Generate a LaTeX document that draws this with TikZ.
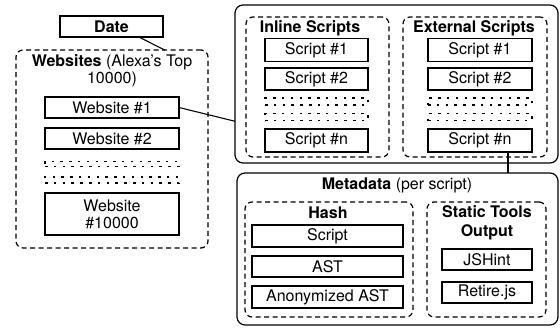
\documentclass[tikz,border=0pt]{standalone}
\usepackage{fontspec}
\setmainfont{TeX Gyre Heros}
\usetikzlibrary{calc}
\tikzset{
  every node/.style={font=\fontsize{16}{17}\selectfont, inner sep=0pt, outer sep=0pt},
  box/.style={draw, line width=1.1pt, rectangle, align=center},
  dotbox/.style={draw, line width=1.3pt, dash pattern=on 2.5pt off 6.3pt, rectangle},
  group/.style={draw, line width=1.2pt, dash pattern=on 5pt off 3.5pt, rounded corners=7pt},
  panel/.style={draw, line width=1.2pt, rounded corners=8pt},
  title/.style={align=center},
  link/.style={line width=1.1pt}
}
\begin{document}
\begin{tikzpicture}[x=1pt,y=-1pt]
\useasboundingbox (0,0) rectangle (560,327);
% Left side
\node[box, minimum width=103pt, minimum height=21pt] (date) at (111.5,26.5) {\textbf{Date}};
\node[group, minimum width=192pt, minimum height=198pt] (websites) at (112,149) {};
\node[title] (wtitle) at (112,71) {\textbf{Websites} (Alexa's Top\\10000)};
\node[box, minimum width=134pt, minimum height=21pt] (web1) at (112,107.5) {Website \#1};
\node[box, minimum width=134pt, minimum height=21pt] (web2) at (112,138.5) {Website \#2};
\node[dotbox, minimum width=134pt, minimum height=5pt] (wdots1) at (112,164) {};
\node[dotbox, minimum width=134pt, minimum height=6pt] (wdots2) at (112,180) {};
\node[box, minimum width=134pt, minimum height=42pt] (webn) at (112,214) {Website\\\#10000};
% Scripts panel
\node[panel, minimum width=323pt, minimum height=158pt] (scripts) at (396.5,84) {};
\node[group, minimum width=143pt, minimum height=140pt] (inline) at (317.5,87) {};
\node[group, minimum width=144pt, minimum height=140pt] (external) at (475,87) {};
\node[title] (ititle) at (310,28) {\textbf{Inline Scripts}};
\node[title] (etitle) at (474,28) {\textbf{External Scripts}};
\node[box, minimum width=103pt, minimum height=23pt] (is1) at (316.5,50) {Script \#1};
\node[box, minimum width=103pt, minimum height=22pt] (is2) at (316.5,79) {Script \#2};
\node[dotbox, minimum width=103pt, minimum height=7pt] (idots1) at (316.5,101.5) {};
\node[dotbox, minimum width=103pt, minimum height=7pt] (idots2) at (316.5,117) {};
\node[box, minimum width=103pt, minimum height=23pt] (isn) at (316.5,140.5) {Script \#n};
\node[box, minimum width=104pt, minimum height=23pt] (es1) at (480,50) {Script \#1};
\node[box, minimum width=104pt, minimum height=22pt] (es2) at (480,79) {Script \#2};
\node[dotbox, minimum width=104pt, minimum height=7pt] (edots1) at (480,101.5) {};
\node[dotbox, minimum width=104pt, minimum height=7pt] (edots2) at (480,117) {};
\node[box, minimum width=104pt, minimum height=23pt] (esn) at (480,140.5) {Script \#n};
% Metadata panel
\node[panel, minimum width=321pt, minimum height=152pt] (meta) at (397.5,249) {};
\node[title] (mtitle) at (397,185) {\textbf{Metadata} (per script)};
\node[group, minimum width=168pt, minimum height=115pt] (hash) at (329,259.5) {};
\node[title] (htitle) at (328,213) {\textbf{Hash}};
\node[box, minimum width=151pt, minimum height=22pt] (hscript) at (327.5,236) {Script};
\node[box, minimum width=151pt, minimum height=21pt] (hast) at (327.5,266.5) {AST};
\node[box, minimum width=151pt, minimum height=22pt] (hanon) at (327.5,297) {Anonymized AST};
\node[group, minimum width=119pt, minimum height=115pt] (static) at (486.5,259.5) {};
\node[title] (stitle) at (487,222.5) {\textbf{Static Tools}\\[2pt]\textbf{Output}};
\node[box, minimum width=90pt, minimum height=21pt] (jshint) at (487,259.5) {JSHint};
\node[box, minimum width=90pt, minimum height=21pt] (retire) at (487,292.5) {Retire.js};
% Connectors
\draw[link] (date.-21.6) -- (websites.62.7);
\draw[link] (web1.east) -- (scripts.193.9);
\draw[link] ([xshift=28pt]esn.south) -- ([xshift=28pt]esn.south |- meta.north);
\end{tikzpicture}
\end{document}
